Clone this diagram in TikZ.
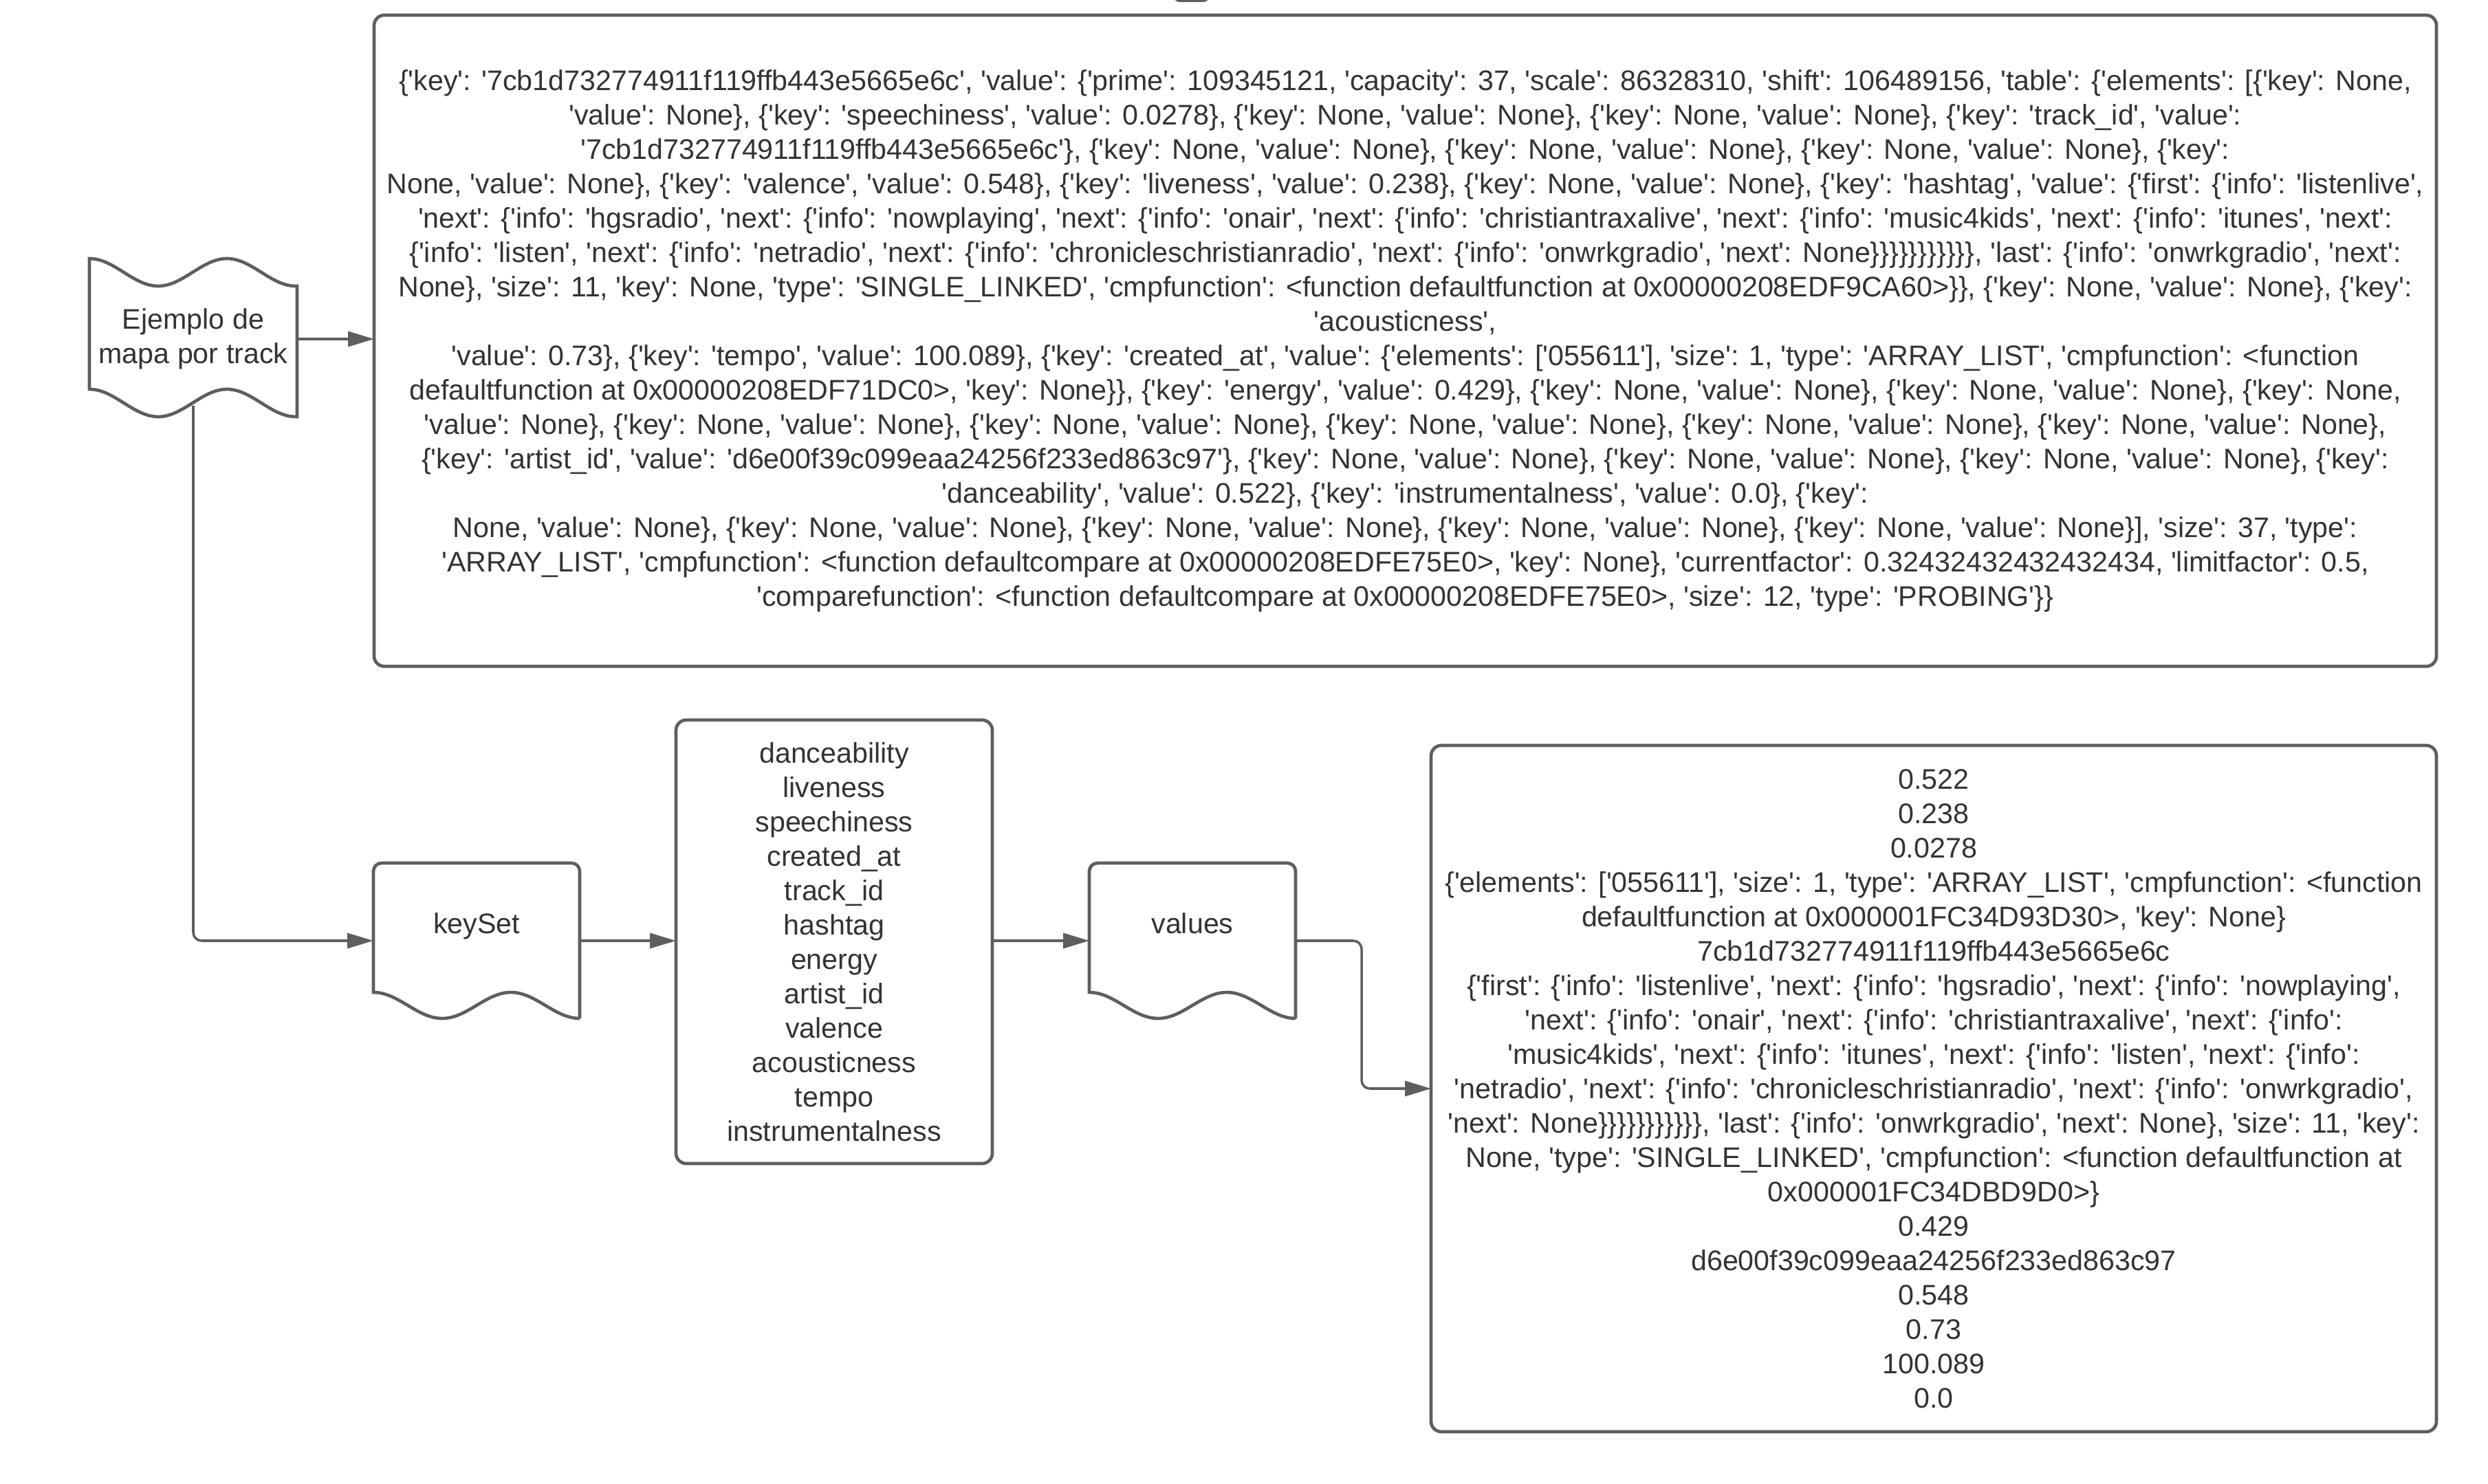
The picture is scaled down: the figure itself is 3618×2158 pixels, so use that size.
\documentclass[tikz,border=0pt]{standalone}
\usepackage{fontspec}
\newfontfamily\lucid{Liberation Sans}
\usetikzlibrary{arrows.meta}
\definecolor{linegray}{HTML}{5E5E5E}
\definecolor{textgray}{HTML}{333333}

\begin{document}
\begin{tikzpicture}[x=0.25pt,y=-0.25pt,
  every node/.style={font={\lucid\fontsize{10.3pt}{12.5pt}\selectfont},text=textgray,
    align=center,inner sep=0pt,outer sep=0pt},
  box/.style={draw=linegray,line width=1.17pt,rounded corners=3.75pt},
  outline/.style={draw=linegray,line width=1.17pt},
  conn/.style={draw=linegray,line width=0.88pt,-{Triangle[length=9.5pt,width=5.5pt]}},
  docbox/.style={minimum width=75pt,minimum height=56.5pt,text depth=12.6pt}]
\useasboundingbox (0,0) rectangle (3618,2158);

% cut-off mark at the top edge
\fill[linegray,rounded corners=2pt] (1707,-20) rectangle (1758,3);

\node[minimum width=75.5pt,minimum height=47.5pt] (mapa) at (281,493) {Ejemplo de\\mapa por track};
\begin{scope}[shift={(mapa.north west)},yshift=0.5pt]
\draw[outline] plot[domain=0:302,samples=60] (\x,{-20*cos(1.8*\x)})
  -- plot[domain=302:0,samples=60] (\x,{190-20*cos(1.8*\x)}) -- cycle;
\end{scope}

\node[box,minimum width=749.75pt,minimum height=236.75pt] (tabla) at (2043.5,495.5) {%
\{'key': '7cb1d732774911f119ffb443e5665e6c', 'value': \{'prime': 109345121, 'capacity': 37, 'scale': 86328310, 'shift': 106489156, 'table': \{'elements': [\{'key': None,\\
'value': None\}, \{'key': 'speechiness', 'value': 0.0278\}, \{'key': None, 'value': None\}, \{'key': None, 'value': None\}, \{'key': 'track\_id', 'value':\\
'7cb1d732774911f119ffb443e5665e6c'\}, \{'key': None, 'value': None\}, \{'key': None, 'value': None\}, \{'key': None, 'value': None\}, \{'key':\\
None, 'value': None\}, \{'key': 'valence', 'value': 0.548\}, \{'key': 'liveness', 'value': 0.238\}, \{'key': None, 'value': None\}, \{'key': 'hashtag', 'value': \{'first': \{'info': 'listenlive',\\
'next': \{'info': 'hgsradio', 'next': \{'info': 'nowplaying', 'next': \{'info': 'onair', 'next': \{'info': 'christiantraxalive', 'next': \{'info': 'music4kids', 'next': \{'info': 'itunes', 'next':\\
\{'info': 'listen', 'next': \{'info': 'netradio', 'next': \{'info': 'chronicleschristianradio', 'next': \{'info': 'onwrkgradio', 'next': None\}\}\}\}\}\}\}\}\}\}\}, 'last': \{'info': 'onwrkgradio', 'next':\\
None\}, 'size': 11, 'key': None, 'type': 'SINGLE\_LINKED', 'cmpfunction': <function defaultfunction at 0x00000208EDF9CA60>\}\}, \{'key': None, 'value': None\}, \{'key':\\
'acousticness',\\
'value': 0.73\}, \{'key': 'tempo', 'value': 100.089\}, \{'key': 'created\_at', 'value': \{'elements': ['055611'], 'size': 1, 'type': 'ARRAY\_LIST', 'cmpfunction': <function\\
defaultfunction at 0x00000208EDF71DC0>, 'key': None\}\}, \{'key': 'energy', 'value': 0.429\}, \{'key': None, 'value': None\}, \{'key': None, 'value': None\}, \{'key': None,\\
'value': None\}, \{'key': None, 'value': None\}, \{'key': None, 'value': None\}, \{'key': None, 'value': None\}, \{'key': None, 'value': None\}, \{'key': None, 'value': None\},\\
\{'key': 'artist\_id', 'value': 'd6e00f39c099eaa24256f233ed863c97'\}, \{'key': None, 'value': None\}, \{'key': None, 'value': None\}, \{'key': None, 'value': None\}, \{'key':\\
'danceability', 'value': 0.522\}, \{'key': 'instrumentalness', 'value': 0.0\}, \{'key':\\
None, 'value': None\}, \{'key': None, 'value': None\}, \{'key': None, 'value': None\}, \{'key': None, 'value': None\}, \{'key': None, 'value': None\}], 'size': 37, 'type':\\
'ARRAY\_LIST', 'cmpfunction': <function defaultcompare at 0x00000208EDFE75E0>, 'key': None\}, 'currentfactor': 0.32432432432432434, 'limitfactor': 0.5,\\
'comparefunction': <function defaultcompare at 0x00000208EDFE75E0>, 'size': 12, 'type': 'PROBING'\}\}};

\node[docbox] (keyset) at (693,1368) {keySet};
\node[box,minimum width=115pt,minimum height=161.25pt] (claves) at (1213,1369.5) {danceability\\liveness\\speechiness\\created\_at\\track\_id\\hashtag\\energy\\artist\_id\\valence\\acousticness\\tempo\\instrumentalness};
\node[docbox] (values) at (1734,1368) {values};

% document outlines
\foreach \n in {keyset,values} {
  \begin{scope}[shift={(\n.north west)}]
  \draw[outline] (0,188) [rounded corners=3pt] -- (0,0) -- (300,0) -- (300,40) [sharp corners] -- (300,226)
    -- plot[domain=300:0,samples=50] (\x,{207-19*cos(1.8*\x)}) -- cycle;
  \end{scope}
}

\node[box,minimum width=365.5pt,minimum height=249.5pt] (valores) at (2812,1583) {%
0.522\\0.238\\0.0278\\
\{'elements': ['055611'], 'size': 1, 'type': 'ARRAY\_LIST', 'cmpfunction': <function\\
defaultfunction at 0x000001FC34D93D30>, 'key': None\}\\
7cb1d732774911f119ffb443e5665e6c\\
\{'first': \{'info': 'listenlive', 'next': \{'info': 'hgsradio', 'next': \{'info': 'nowplaying',\\
'next': \{'info': 'onair', 'next': \{'info': 'christiantraxalive', 'next': \{'info':\\
'music4kids', 'next': \{'info': 'itunes', 'next': \{'info': 'listen', 'next': \{'info':\\
'netradio', 'next': \{'info': 'chronicleschristianradio', 'next': \{'info': 'onwrkgradio',\\
'next': None\}\}\}\}\}\}\}\}\}\}\}, 'last': \{'info': 'onwrkgradio', 'next': None\}, 'size': 11, 'key':\\
None, 'type': 'SINGLE\_LINKED', 'cmpfunction': <function defaultfunction at\\
0x000001FC34DBD9D0>\}\\
0.429\\d6e00f39c099eaa24256f233ed863c97\\0.548\\0.73\\100.089\\0.0};

% connectors
\draw[conn] (mapa.east) -- (tabla.west |- mapa.east);
\draw[conn,rounded corners=3pt] ([yshift=-0.5pt]mapa.south) |- (keyset.west);
\draw[conn] (keyset.east) -- (claves.west |- keyset.east);
\draw[conn] (claves.east |- values.west) -- (values.west);
\draw[conn,rounded corners=3pt] (values.east) -- ++(96,0) |- (valores.west);
\end{tikzpicture}
\end{document}
